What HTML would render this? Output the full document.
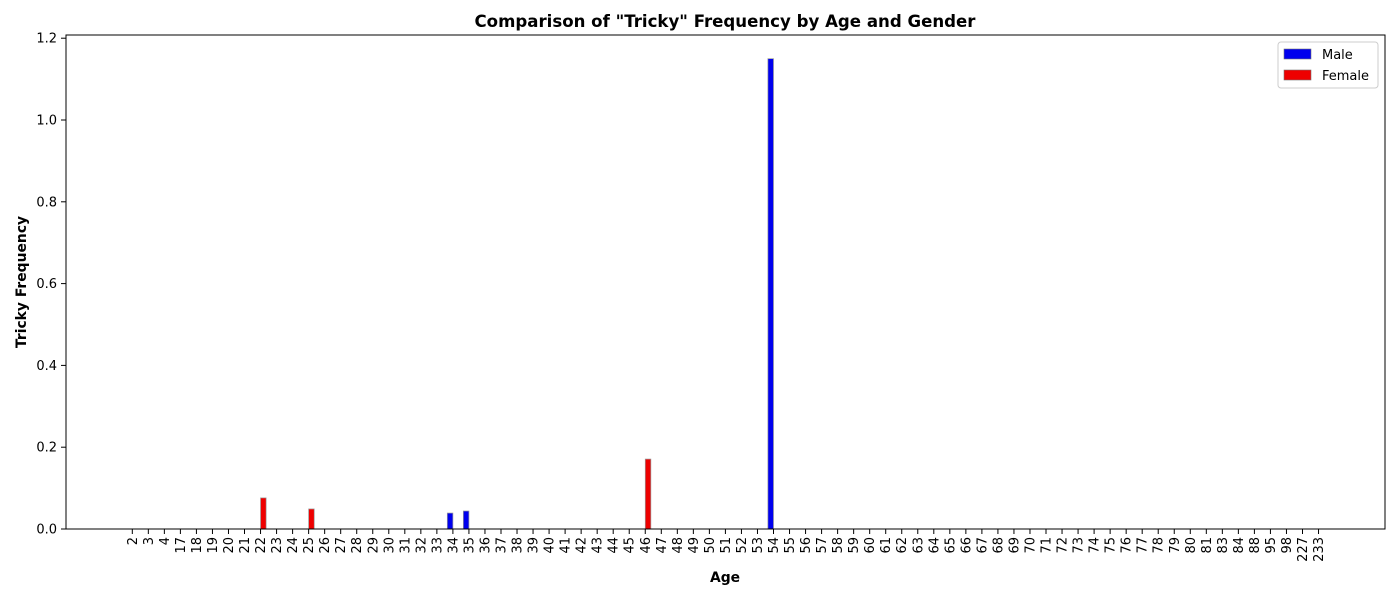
<!DOCTYPE html>
<html><head><meta charset="utf-8"><style>
body{margin:0;background:#fff}
svg{font-family:"DejaVu Sans","Liberation Sans",sans-serif}
</style></head><body>
<svg id="chart" width="1400" height="600" xmlns="http://www.w3.org/2000/svg">
<rect width="1400" height="600" fill="#fff"/>
<text x="725" y="27" text-anchor="middle" font-size="16.6" font-weight="bold">Comparison of "Tricky" Frequency by Age and Gender</text>
<text x="725" y="582" text-anchor="middle" font-size="13.9" font-weight="bold">Age</text>
<text transform="translate(26,282) rotate(-90)" text-anchor="middle" font-size="13.9" font-weight="bold">Tricky Frequency</text>
<g id="plot"></g>
<rect x="66" y="35" width="1319" height="494" fill="none" stroke="#000" stroke-width="1"/>
<g>
<rect x="1278" y="42" width="100" height="46" rx="3" fill="#fff" stroke="#ccc"/>
<rect x="1284" y="49" width="27" height="10" fill="#0000ee" stroke="#777" stroke-width="0.6"/>
<text x="1322" y="59" font-size="13">Male</text>
<rect x="1284" y="70" width="27" height="10" fill="#ee0000" stroke="#777" stroke-width="0.6"/>
<text x="1322" y="80" font-size="13">Female</text>
</g>
</svg>
<script>
const ages=["2","3","4","17","18","19","20","21","22","23","24","25","26","27","28","29","30","31","32","33","34","35","36","37","38","39","40","41","42","43","44","45","46","47","48","49","50","51","52","53","54","55","56","57","58","59","60","61","62","63","64","65","66","67","68","69","70","71","72","73","74","75","76","77","78","79","80","81","83","84","88","95","98","227","233"];
const maleValues={"34":0.039,"35":0.044,"54":1.15};
const femaleValues={"22":0.076,"25":0.049,"46":0.171};
const yTicks=[0,0.2,0.4,0.6,0.8,1.0,1.2];
const yTickLabels=["0.0","0.2","0.4","0.6","0.8","1.0","1.2"];

const NS="http://www.w3.org/2000/svg";
const g=document.getElementById('plot');
const x0=132.3, step=16.03;
function xScale(i){return x0+i*step;}
function yScale(v){return 529-v*409;}
function mk(t,a){const e=document.createElementNS(NS,t);for(const k in a)e.setAttribute(k,a[k]);g.appendChild(e);return e;}
yTicks.forEach((v,i)=>{
  const y=yScale(v);
  const t=mk('line',{x1:61,x2:66,y1:y,y2:y,stroke:'#000'});
  
  
  const l=mk('text',{x:57,y:y+4.5,'text-anchor':'end','font-size':13});
  
  
  l.textContent=yTickLabels[i];
});
const bw=5.6, off=2.8;
ages.forEach((a,i)=>{
  const x=xScale(i);
  const t=mk('line',{x1:x,x2:x,y1:529,y2:534,stroke:'#000'});
  
  
  const l=mk('text',{transform:`translate(${x+4.5},537) rotate(-90)`,'text-anchor':'end','font-size':13});
  
  
  l.textContent=a;
  const mv=maleValues[a]||0, fv=femaleValues[a]||0;
  const m=mk('rect',{x:x-off-bw/2,y:yScale(mv),width:bw,height:529-yScale(mv),fill:'#0000ee',stroke:'#999','stroke-width':0.7});
  
  
  const f=mk('rect',{x:x+off-bw/2,y:yScale(fv),width:bw,height:529-yScale(fv),fill:'#ee0000',stroke:'#999','stroke-width':0.7});
  
  
});
</script>
</body></html>
